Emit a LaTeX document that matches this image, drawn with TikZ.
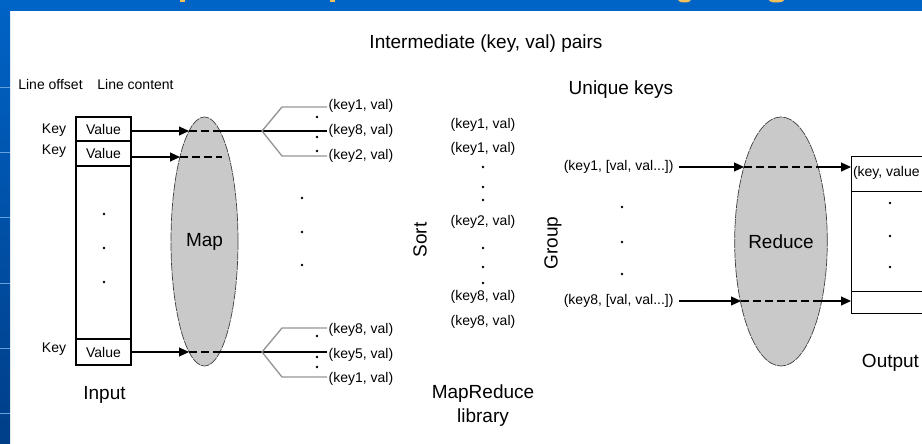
\documentclass[tikz,border=0pt]{standalone}
\usepackage{fontspec}
\setmainfont{Liberation Sans}
\usetikzlibrary{arrows.meta,shapes.geometric}

\definecolor{slideblue}{RGB}{0,99,198}
\definecolor{slidebluedark}{RGB}{0,62,136}
\definecolor{ovalgray}{RGB}{201,201,201}
\definecolor{branchgray}{RGB}{150,150,150}
\definecolor{titleyellow}{RGB}{242,192,92}

\begin{document}
\begin{tikzpicture}[x=1pt,y=-1pt,
  lbl/.style={inner sep=1.5pt,font=\fontsize{14}{16}\selectfont},
  biglbl/.style={inner sep=1.5pt,font=\fontsize{19}{22}\selectfont},
  cell/.style={draw,line width=1.1pt,minimum width=55pt,inner sep=0pt,
    font=\fontsize{14}{16}\selectfont},
  outcell/.style={draw,line width=1.1pt,minimum width=95pt,inner sep=0pt,anchor=north west},
  oval/.style={ellipse,draw=black!75,fill=ovalgray,line width=0.7pt,
    dash pattern=on 9pt off 1pt,inner sep=0pt,font=\fontsize{19}{22}\selectfont},
  wire/.style={line width=1.1pt},
  flow/.style={line width=1.1pt,-{Triangle[length=10pt,width=9pt]}},
  inside/.style={line width=1.1pt,dash pattern=on 8pt off 4pt},
  branch/.style={line width=1.4pt,branchgray},
  dot/.style={circle,fill=black,inner sep=0pt,minimum size=2.6pt},
]
\useasboundingbox (0,0) rectangle (922,444);
\clip (0,0) rectangle (922,444);

% slide frame
\fill[white] (0,0) rectangle (922,444);
\fill[slideblue] (0,0) rectangle (922,11);
\shade[top color=slideblue,bottom color=slidebluedark] (0,0) rectangle (10,444);
\foreach \yy in {87,152,217,283,348,413}
  \draw[slideblue!60!white,line width=0.6pt] (0,\yy) -- (10,\yy);
% descenders of the heading above
\fill[titleyellow] (180,0) rectangle (185,2.5);
\fill[titleyellow] (330,0) rectangle (335,2.5);
\fill[titleyellow] (684.5,0) ellipse (6.5pt and 2.5pt);
\fill[titleyellow] (776.5,0) ellipse (7.5pt and 2.5pt);

% headings
\node[biglbl] (title) at (486,44) {Intermediate (key, val) pairs};
\node[lbl] (lineoffset) at (50.5,84) {Line offset};
\node[lbl] (linecontent) at (135.5,84) {Line content};

% input records
\node[cell,minimum height=24pt] (v1) at (103.5,129) {Value};
\node[cell,minimum height=25pt] (v2) at (103.5,153.5) {Value};
\node[cell,minimum height=173pt] (vmid) at (103.5,252.5) {};
\node[cell,minimum height=26pt] (vn) at (103.5,352) {Value};
\node[lbl] (key1) at (54,130) {Key};
\node[lbl] (key2) at (54,151) {Key};
\node[lbl] (keyn) at (54,349) {Key};
\node[dot] (id1) at (104,214) {};
\node[dot] (id2) at (104,248) {};
\node[dot] (id3) at (104,282) {};
\node[biglbl] (input) at (104.5,395) {Input};

% map
\node[oval,minimum width=67pt,minimum height=249pt] (map) at (204.5,241.5) {Map};
\coordinate (m1in) at (189,131);
\coordinate (m1out) at (220,131);
\coordinate (m2in) at (180,157);
\coordinate (m2end) at (222,157);
\coordinate (m3in) at (189,352);
\coordinate (m3out) at (220,352);
\draw[flow] (v1.east |- m1in) -- (m1in);
\draw[inside] (m1in) -- (m1out);
\draw[flow] (v2.east |- m2in) -- (m2in);
\draw[inside] (m2in) -- (m2end);
\draw[flow] (vn.east |- m3in) -- (m3in);
\draw[inside] (m3in) -- (m3out);

% map output, first record
\coordinate (b1) at (262,131);
\node[lbl,anchor=west] (p11) at (327,106) {(key1, val)};
\node[lbl,anchor=west] (p12) at (327,131) {(key8, val)};
\node[lbl,anchor=west] (p13) at (327,156) {(key2, val)};
\draw[wire] (m1out) -- (b1) -- (p12.west);
\draw[branch] (b1) -- (282,107) -- (p11.west |- 0,107);
\draw[branch] (b1) -- (282,156) -- (p13.west);
\node[dot] at (317,117) {};
\node[dot] at (317,137) {};
\node[dot] at (317,151) {};

% map output, last record
\coordinate (b2) at (262,352);
\node[lbl,anchor=west] (p21) at (327,330) {(key8, val)};
\node[lbl,anchor=west] (p22) at (327,355) {(key5, val)};
\node[lbl,anchor=west] (p23) at (327,379) {(key1, val)};
\draw[wire] (m3out) -- (b2) -- (p22.west |- b2);
\draw[branch] (b2) -- (282,328) -- (p21.west |- 0,328);
\draw[branch] (b2) -- (282,377) -- (p23.west |- 0,377);
\node[dot] at (317,336) {};
\node[dot] at (317,357) {};
\node[dot] at (317,367) {};

\node[dot] at (302,198) {};
\node[dot] at (302,232) {};
\node[dot] at (302,265) {};

% sort step of the library
\node[biglbl,rotate=90] (sort) at (420,240) {Sort};
\node[lbl] (s1) at (483,125) {(key1, val)};
\node[lbl] (s2) at (483,149) {(key1, val)};
\node[dot] at (483,167) {};
\node[dot] at (483,187) {};
\node[dot] at (483,200) {};
\node[lbl] (s3) at (483,222) {(key2, val)};
\node[dot] at (483,248) {};
\node[dot] at (483,267) {};
\node[dot] at (483,283) {};
\node[lbl] (s4) at (483,297) {(key8, val)};
\node[lbl] (s5) at (483,322) {(key8, val)};
\node[biglbl,align=center] (lib) at (483,406) {MapReduce\\[2pt]library};

% group and reduce
\node[biglbl] (unique) at (621,90) {Unique keys};
\node[biglbl,rotate=90] (group) at (553,243) {Group};
\node[lbl,anchor=east,outer sep=4pt] (g1) at (679,167) {(key1, [val, val...])};
\node[lbl,anchor=east,outer sep=4pt] (g2) at (679,301) {(key8, [val, val...])};
\node[dot] at (622,207) {};
\node[dot] at (622,242) {};
\node[dot] at (622,274) {};

\node[oval,minimum width=88pt,minimum height=249pt] (reduce) at (781,241.5) {Reduce};
\coordinate (r1in) at (744,167);
\coordinate (r1out) at (816,167);
\coordinate (r2in) at (741,301);
\coordinate (r2out) at (820,301);

% output records
\node[outcell,minimum height=35pt] (o1) at (851,156) {};
\node[outcell,minimum height=100pt] (omid) at (851,191) {};
\node[outcell,minimum height=22pt] (on) at (851,291) {};
\node[lbl,anchor=west,inner sep=0.8pt] (kv) at (852,173) {(key, value};
\node[dot] at (890,203) {};
\node[dot] at (890,236) {};
\node[dot] at (890,267) {};
\node[biglbl] (output) at (890.5,363) {Output};

\draw[flow] (g1.east) -- (r1in);
\draw[inside] (r1in) -- (r1out);
\draw[flow] (r1out) -- (o1.west |- r1out);
\draw[flow] (g2.east) -- (r2in);
\draw[inside] (r2in) -- (r2out);
\draw[flow] (r2out) -- (on.west |- r2out);
\end{tikzpicture}
\end{document}
